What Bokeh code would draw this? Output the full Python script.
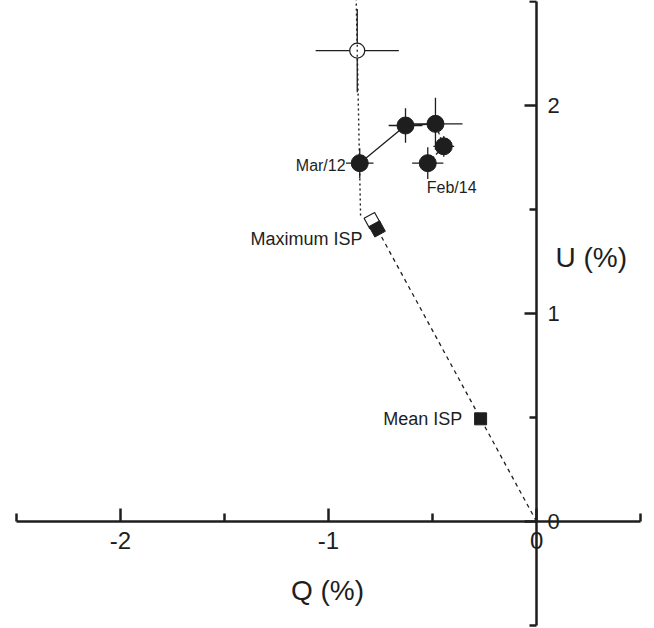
from bokeh.plotting import figure
from bokeh.models import LinearAxis, FixedTicker, Range1d, Label
from bokeh.embed import file_html
from bokeh.resources import INLINE

# ---- data ----
# observed points in time order (Feb/14 ... Mar/12)
obs_q = [-0.523, -0.446, -0.486, -0.630, -0.850]
obs_u = [1.723, 1.804, 1.912, 1.904, 1.723]
obs_q_err = [0.075, 0.050, 0.130, 0.081, 0.066]
obs_u_err = [0.076, 0.050, 0.125, 0.083, 0.072]
obs_labels = ["Feb/14", "", "", "", "Mar/12"]

# open (early) point
open_q = [-0.862]
open_u = [2.264]
open_q_err = [0.20]
open_u_err = [0.20]

# ISP estimates
max_isp_q = [-0.766]
max_isp_u = [1.407]
max_isp_open_q = [-0.790]
max_isp_open_u = [1.447]
mean_isp_q = [-0.269]
mean_isp_u = [0.494]

# dotted line (intrinsic direction) and dashed line (ISP direction)
dotted_q = [-0.846, -0.867]
dotted_u = [1.471, 2.51]
dashed_q = [0.0, -0.766]
dashed_u = [0.0, 1.407]

x_ticks = [-2, -1, 0]
x_tick_labels = ["-2", "-1", "0"]
x_minor = [-2.5, -1.5, -0.5, 0.5]
y_ticks = [0, 1, 2]
y_tick_labels = ["0", "1", "2"]
y_minor = [-0.5, 0.5, 1.5, 2.5]

INK = "#1e1e1e"
FONT = "Liberation Sans"

p = figure(width=654, height=628, output_backend="svg", toolbar_location=None,
           x_axis_location=None, y_axis_location=None,
           x_range=Range1d(-2.577, 0.567), y_range=Range1d(-0.514, 2.505),
           min_border=0)
p.outline_line_color = None
p.background_fill_color = "white"
p.grid.visible = False

# axes crossing at origin
xa = LinearAxis(ticker=FixedTicker(ticks=x_ticks, minor_ticks=x_minor),
                fixed_location=0, bounds=(-2.5, 0.5),
                major_label_overrides={t: s for t, s in zip(x_ticks, x_tick_labels)})
ya = LinearAxis(ticker=FixedTicker(ticks=y_ticks, minor_ticks=y_minor),
                fixed_location=0, bounds=(-0.5, 2.5),
                major_label_overrides={t: s for t, s in zip(y_ticks, y_tick_labels)})
for ax in (xa, ya):
    ax.axis_line_color = INK
    ax.axis_line_width = 2.5
    ax.major_tick_line_color = INK
    ax.major_tick_line_width = 2.5
    ax.minor_tick_line_color = INK
    ax.minor_tick_line_width = 2.5
    ax.major_tick_out = 0
    ax.minor_tick_out = 0
    ax.major_label_text_font = FONT
    ax.major_label_text_color = INK
xa.major_label_text_font_size = "24px"
ya.major_label_text_font_size = "22px"
xa.major_tick_in = 13
xa.minor_tick_in = 8
xa.major_label_standoff = 10
ya.major_tick_in = 12
ya.minor_tick_in = 7
ya.major_label_standoff = 11
p.add_layout(xa, "below")
p.add_layout(ya, "right")

# dashed ISP line and dotted line
p.line(dashed_q, dashed_u, line_color=INK, line_width=1.3, line_dash="4 4")
p.line(dotted_q, dotted_u, line_color=INK, line_width=1.4, line_dash="2 3")

# error bars
p.segment([q - e for q, e in zip(obs_q, obs_q_err)], obs_u,
          [q + e for q, e in zip(obs_q, obs_q_err)], obs_u, line_color=INK, line_width=1.3)
p.segment(obs_q, [u - e for u, e in zip(obs_u, obs_u_err)],
          obs_q, [u + e for u, e in zip(obs_u, obs_u_err)], line_color=INK, line_width=1.3)
p.segment([q - e for q, e in zip(open_q, open_q_err)], open_u,
          [q + e for q, e in zip(open_q, open_q_err)], open_u, line_color=INK, line_width=1.3)
p.segment(open_q, [u - e for u, e in zip(open_u, open_u_err)],
          open_q, [u + e for u, e in zip(open_u, open_u_err)], line_color=INK, line_width=1.3)

# connecting lines: first two segments dashed, last two solid
p.line(obs_q[:3], obs_u[:3], line_color=INK, line_width=1.3, line_dash="3 3")
p.line(obs_q[2:], obs_u[2:], line_color=INK, line_width=1.3)

# markers
p.scatter(obs_q, obs_u, marker="circle", size=17, fill_color=INK, line_color=INK)
p.scatter(open_q, open_u, marker="circle", size=15, fill_color="white", line_color=INK, line_width=1.2)
p.line(open_q * 2, [open_u[0] - 0.03, open_u[0] + 0.03], line_color=INK, line_width=1.3, line_dash="2 3")
p.scatter(max_isp_open_q, max_isp_open_u, marker="square", size=12, angle=0.5,
          fill_color="white", line_color=INK, line_width=1.2)
p.scatter(max_isp_q, max_isp_u, marker="square", size=12, angle=0.5,
          fill_color=INK, line_color=INK)
p.scatter(mean_isp_q, mean_isp_u, marker="square", size=12, fill_color=INK, line_color=INK)

# annotations
def lab(x, y, text, align="left", size="16px", baseline="middle"):
    p.add_layout(Label(x=x, y=y, text=text, text_align=align, text_baseline=baseline,
                       text_font=FONT, text_font_size=size, text_color=INK))

lab(obs_q[4] - 0.068, obs_u[4] - 0.01, obs_labels[4], align="right")
lab(obs_q[0] - 0.005, obs_u[0] - 0.117, obs_labels[0], align="left")
lab(max_isp_q[0] - 0.071, max_isp_u[0] - 0.05, "Maximum ISP", align="right", size="18px")
lab(mean_isp_q[0] - 0.088, mean_isp_u[0], "Mean ISP", align="right", size="18px")
lab(-1.005, -0.33, "Q (%)", align="center", size="28px")
lab(0.091, 1.27, "U (%)", align="left", size="28px")

open("out.html", "w").write(file_html(p, INLINE))
